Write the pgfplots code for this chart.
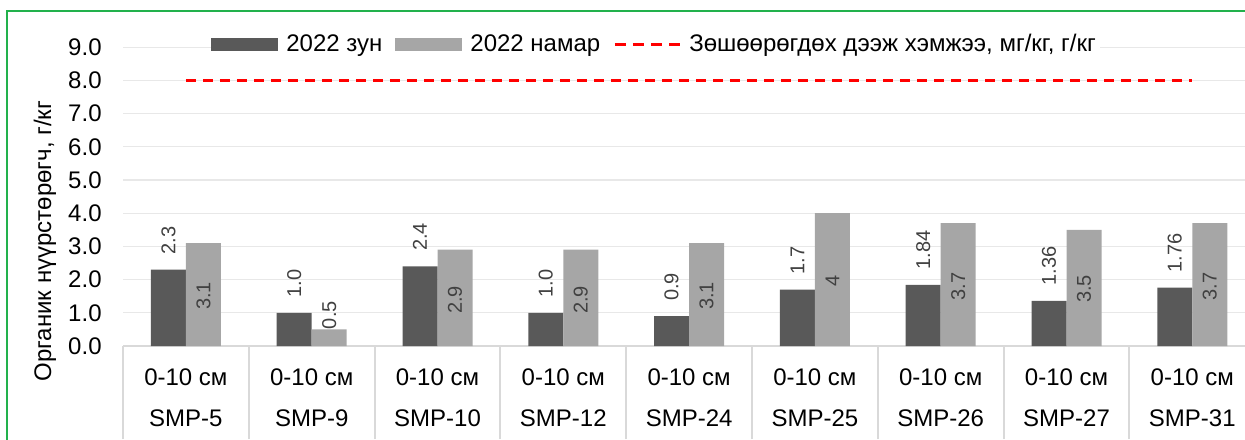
\documentclass[border=0pt]{standalone}
\usepackage{fontspec}
\setmainfont{Liberation Sans}
\usepackage{pgfplots}
\usepackage{pgfplotstable}
\pgfplotsset{compat=1.18}

\definecolor{darkbar}{HTML}{595959}
\definecolor{lightbar}{HTML}{A6A6A6}
\definecolor{gridc}{HTML}{E8E8E8}
\definecolor{sepc}{HTML}{D9D9D9}
\definecolor{framec}{HTML}{22B14C}
\definecolor{lbl}{HTML}{404040}

% x, summer value + label, autumn value + label, label centre height for autumn
\pgfplotstableread{
x a alab b blab bpos
0 2.3 2.3 3.1 3.1 1.51
1 1.0 1.0 0.5 0.5 0.93
2 2.4 2.4 2.9 2.9 1.39
3 1.0 1.0 2.9 2.9 1.39
4 0.9 0.9 3.1 3.1 1.51
5 1.7 1.7 4.0 4 1.96
6 1.84 1.84 3.7 3.7 1.80
7 1.36 1.36 3.5 3.5 1.72
8 1.76 1.76 3.7 3.7 1.80
}\smp

\begin{document}
\begin{tikzpicture}
\useasboundingbox (0,0) rectangle (622.5pt,219.5pt);
\clip (0,0) rectangle (622.5pt,219.5pt);
\begin{axis}[
    at={(61.5pt,46.5pt)}, anchor=south west,
    x=62.9pt, y=16.6pt,
    xmin=-0.5, xmax=8.5, ymin=0, ymax=9,
    clip=false,
    axis lines*=left,
    y axis line style={draw=none},
    x axis line style={draw=sepc, line width=1pt},
    ytick={0,1,...,9},
    ytick style={draw=none},
    xtick={0,1,...,8},
    minor xtick={-0.5,0.5,...,8.5},
    tick align=outside,
    major tick length=0pt,
    minor tick length=46.5pt,
    major x tick style={draw=none},
    minor x tick style={draw=sepc, line width=1pt},
    ymajorgrids,
    major grid style={draw=gridc, line width=0.6pt},
    xticklabels={{0-10 см\\SMP-5},{0-10 см\\SMP-9},{0-10 см\\SMP-10},{0-10 см\\SMP-12},{0-10 см\\SMP-24},{0-10 см\\SMP-25},{0-10 см\\SMP-26},{0-10 см\\SMP-27},{0-10 см\\SMP-31}},
    x tick label style={align=center, anchor=north, inner sep=0pt, yshift=-11.2pt, font=\fontsize{12}{20.5}\selectfont},
    y tick label style={inner sep=0pt, xshift=-10.5pt, font=\fontsize{12}{14}\selectfont,
        /pgf/number format/fixed, /pgf/number format/fixed zerofill, /pgf/number format/precision=1},
    /pgf/number format/assume math mode=true,
    ylabel={Органик нүүрстөрөгч, г/кг},
    every axis y label/.style={at={(axis description cs:0,0.351)}, xshift=-39pt, rotate=90, anchor=center, font=\fontsize{12}{14}\selectfont},
    legend style={at={(axis description cs:0.0777,1.009)}, anchor=west, draw=none, fill=white, inner sep=0pt,
        font=\fontsize{12}{14}\selectfont, legend columns=-1,
        /tikz/every even column/.append style={column sep=4.5pt},
        /tikz/every odd column/.append style={column sep=2pt}},
]
\addplot[ybar, bar width=17.5pt, bar shift=-8.75pt, fill=darkbar, draw=none,
    legend image code/.code={\fill[darkbar] (0pt,-3.25pt) rectangle (33.5pt,3.25pt);},
    nodes near coords, point meta=explicit symbolic,
    nodes near coords style={font=\fontsize{10}{12}\selectfont, text=lbl, xshift=-8.75pt, rotate=90, anchor=west, inner xsep=7.5pt, inner ysep=0pt}]
    table[x=x, y=a, meta=alab] {\smp};
\addlegendentry{2022 зун}
\addplot[ybar, bar width=17.5pt, bar shift=8.75pt, fill=lightbar, draw=none,
    legend image code/.code={\fill[lightbar] (0pt,-3.25pt) rectangle (33.5pt,3.25pt);},
    nodes near coords, point meta=explicit symbolic,
    visualization depends on={\thisrow{bpos} \as \bpos},
    visualization depends on={\thisrow{b} \as \bval},
    nodes near coords style={font=\fontsize{10}{12}\selectfont, text=lbl, xshift=8.75pt, yshift={(\bpos-\bval)*16.6pt}, rotate=90, anchor=center, inner sep=0pt}]
    table[x=x, y=b, meta=blab] {\smp};
\addlegendentry{2022 намар}
\addplot[red, line width=1.5pt, dash pattern=on 5pt off 3.5pt, mark=none,
    legend image code/.code={\draw[red, line width=1.5pt, dash pattern=on 5.5pt off 3.6pt] (0pt,0pt) -- (32.5pt,0pt);}]
    coordinates {(0,8) (1,8) (2,8) (3,8) (4,8) (5,8) (6,8) (7,8) (8,8)};
\addlegendentry{Зөшөөрөгдөх дээж хэмжээ, мг/кг, г/кг}
\end{axis}
\draw[framec, line width=1pt] (3.5pt,-20pt) rectangle (700pt,214pt);
\end{tikzpicture}
\end{document}
